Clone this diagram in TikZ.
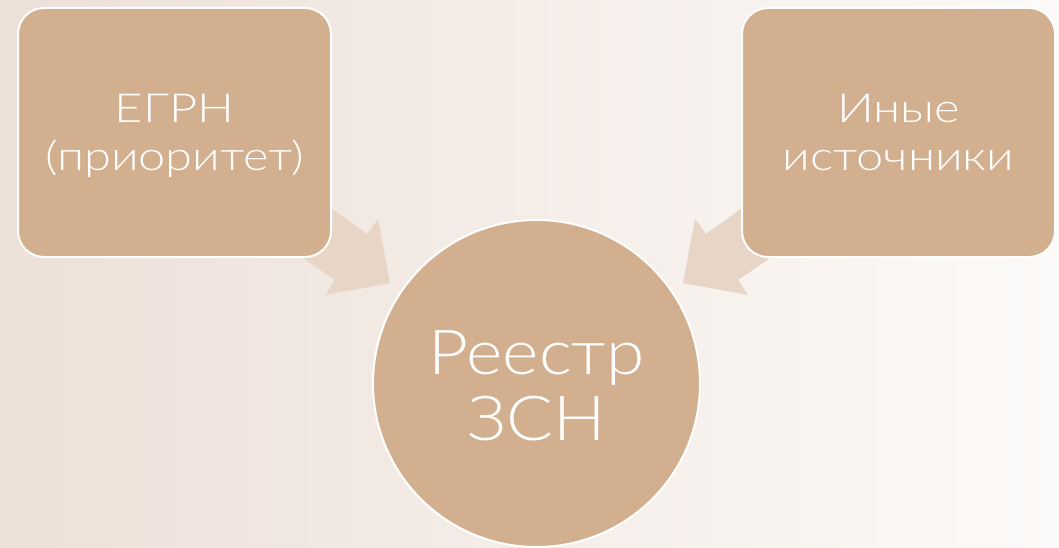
\documentclass[tikz,border=0pt]{standalone}
\usepackage{fontspec}
\setmainfont{Lato Light}
\newfontfamily\srcfont{Lato Light}[FakeStretch=1.22]
\newfontfamily\hubfont{Lato Light}[FakeStretch=1.12]
\definecolor{boxfill}{HTML}{D2AF8E}
\definecolor{arrowfill}{HTML}{E7D5C6}
\definecolor{bgleft}{HTML}{EDE0D8}
\definecolor{bgright}{HTML}{FCFAF8}
\tikzset{
  srcbox/.style={draw=white, line width=2pt, fill=boxfill, rounded corners=26pt,
    minimum width=313pt, minimum height=249pt, text=white, align=center,
    text height=78pt, text depth=1.6pt,
    font=\srcfont\fontsize{40}{48}\selectfont},
  hub/.style={draw=white, line width=2pt, fill=boxfill, circle, minimum size=327pt,
    inner sep=0pt, text=white, align=center, text height=115pt, text depth=0.6pt,
    font=\hubfont\fontsize{62}{66.7}\selectfont},
  flow/.style={fill=arrowfill, draw=none}
}
\begin{document}
\begin{tikzpicture}[x=1pt,y=-1pt]
\useasboundingbox (0,0) rectangle (1059,548);
\shade[left color=bgleft, right color=bgright] (0,0) rectangle (1059,548);
% arrows
\coordinate (la1) at (295,182);
\coordinate (la2) at (367,234);
\coordinate (la3) at (378,219);
\coordinate (la4) at (390,283);
\coordinate (la5) at (325,295);
\coordinate (la6) at (335,280);
\coordinate (la7) at (271,236);
\fill[flow] (la1) -- (la2) -- (la3) -- (la4) -- (la5) -- (la6) -- (la7) -- cycle;
\coordinate (ra1) at (778,182);
\coordinate (ra2) at (706,234);
\coordinate (ra3) at (695,219);
\coordinate (ra4) at (683,283);
\coordinate (ra5) at (748,295);
\coordinate (ra6) at (738,280);
\coordinate (ra7) at (802,236);
\fill[flow] (ra1) -- (ra2) -- (ra3) -- (ra4) -- (ra5) -- (ra6) -- (ra7) -- cycle;
% nodes
\node[srcbox] (egrn) at (174.5,132.5) {ЕГРН\\(приоритет)};
\node[srcbox] (other) at (898.5,132.5) {Иные\\источники};
\node[hub] (reg) at (536.5,383.5) {Реестр\\ЗСН};
\end{tikzpicture}
\end{document}
